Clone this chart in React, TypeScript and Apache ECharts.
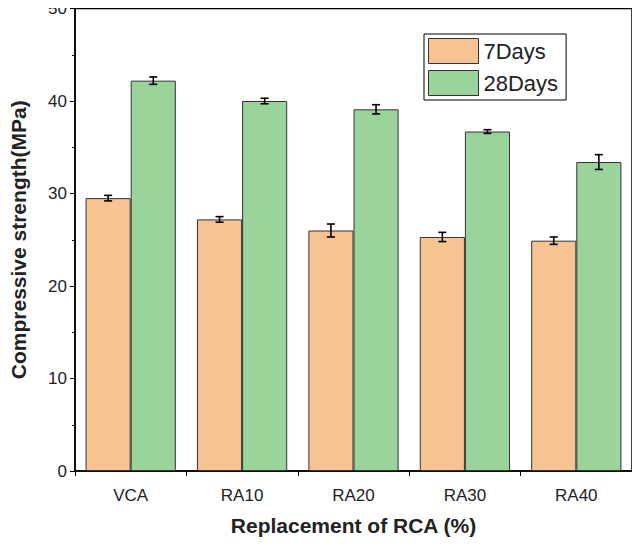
import React, { useEffect, useRef } from "react";
import * as echarts from "echarts";

const categories = ["VCA", "RA10", "RA20", "RA30", "RA40"];
const days7 = [29.5, 27.2, 26.0, 25.3, 24.9];
const days28 = [42.2, 40.0, 39.1, 36.7, 33.4];
const err7 = [0.3, 0.3, 0.7, 0.5, 0.4];
const err28 = [0.4, 0.3, 0.5, 0.2, 0.8];

const CAT_GAP = 0.19;

function errSeries(vals: number[], errs: number[], side: number) {
  return {
    type: "custom",
    z: 10,
    data: vals.map((v, i) => [i, v, errs[i]]),
    renderItem: (params: any, api: any) => {
      const i = api.value(0);
      const v = api.value(1);
      const e = api.value(2);
      const band = api.size([1, 0])[0];
      const bw = (band * (1 - CAT_GAP)) / 2;
      const cx = api.coord([i, v])[0] + (side * bw) / 2;
      const yTop = api.coord([i, v + e])[1];
      const yBot = api.coord([i, v - e])[1];
      const cap = 4;
      const style = { stroke: "#000", lineWidth: 1.6 };
      return {
        type: "group",
        children: [
          { type: "line", shape: { x1: cx, y1: yTop, x2: cx, y2: yBot }, style },
          { type: "line", shape: { x1: cx - cap, y1: yTop, x2: cx + cap, y2: yTop }, style },
          { type: "line", shape: { x1: cx - cap, y1: yBot, x2: cx + cap, y2: yBot }, style },
        ],
      };
    },
  };
}

export default function App() {
  const ref = useRef<HTMLDivElement>(null);
  useEffect(() => {
    const chart = echarts.init(ref.current!, null, { renderer: "svg" });
    const font = "Arial, 'Liberation Sans', sans-serif";
    chart.setOption({
      animation: false,
      textStyle: { fontFamily: font },
      grid: { left: 65, right: 8, top: 8, bottom: 74, show: true, borderColor: "#000", borderWidth: 1.5 },
      legend: {
        orient: "vertical",
        left: 424,
        top: 34,
        icon: "rect",
        itemWidth: 50,
        itemHeight: 25,
        itemGap: 6,
        padding: [4, 8, 4, 4],
        borderColor: "#000",
        borderWidth: 1,
        itemStyle: { borderColor: "#333", borderWidth: 1 },
        textStyle: { fontSize: 22, color: "#222", fontFamily: font },
        data: ["7Days", "28Days"],
      },
      xAxis: {
        type: "category",
        data: categories,
        name: "Replacement of RCA (%)",
        nameLocation: "middle",
        nameGap: 44,
        nameTextStyle: { fontSize: 21, fontWeight: "bold", color: "#222" },
        axisLine: { lineStyle: { color: "#000", width: 1.5 } },
        axisTick: { show: true, length: 5, lineStyle: { color: "#000" } },
        axisLabel: { fontSize: 17, color: "#222", margin: 16 },
      },
      yAxis: {
        type: "value",
        min: 0,
        max: 50,
        interval: 10,
        name: "Compressive strength(MPa)",
        nameLocation: "middle",
        nameGap: 46,
        nameTextStyle: { fontSize: 21, fontWeight: "bold", color: "#222" },
        axisLine: { show: true, lineStyle: { color: "#000", width: 1.5 } },
        axisTick: { show: true, length: 5, lineStyle: { color: "#000" } },
        minorTick: { show: true, splitNumber: 2, length: 3, lineStyle: { color: "#000" } },
        splitLine: { show: false },
        axisLabel: { fontSize: 17, color: "#222" },
      },
      series: [
        {
          name: "7Days",
          type: "bar",
          data: days7,
          barGap: "0%",
          barCategoryGap: "19%",
          itemStyle: { color: "#f8c392", borderColor: "#333", borderWidth: 1 },
        },
        {
          name: "28Days",
          type: "bar",
          data: days28,
          barGap: "0%",
          barCategoryGap: "19%",
          itemStyle: { color: "#9ad49a", borderColor: "#333", borderWidth: 1 },
        },
        errSeries(days7, err7, -1),
        errSeries(days28, err28, 1),
      ],
    });
    return () => chart.dispose();
  }, []);
  return <div ref={ref} style={{ width: 640, height: 545, margin: -8 }} />;
}
